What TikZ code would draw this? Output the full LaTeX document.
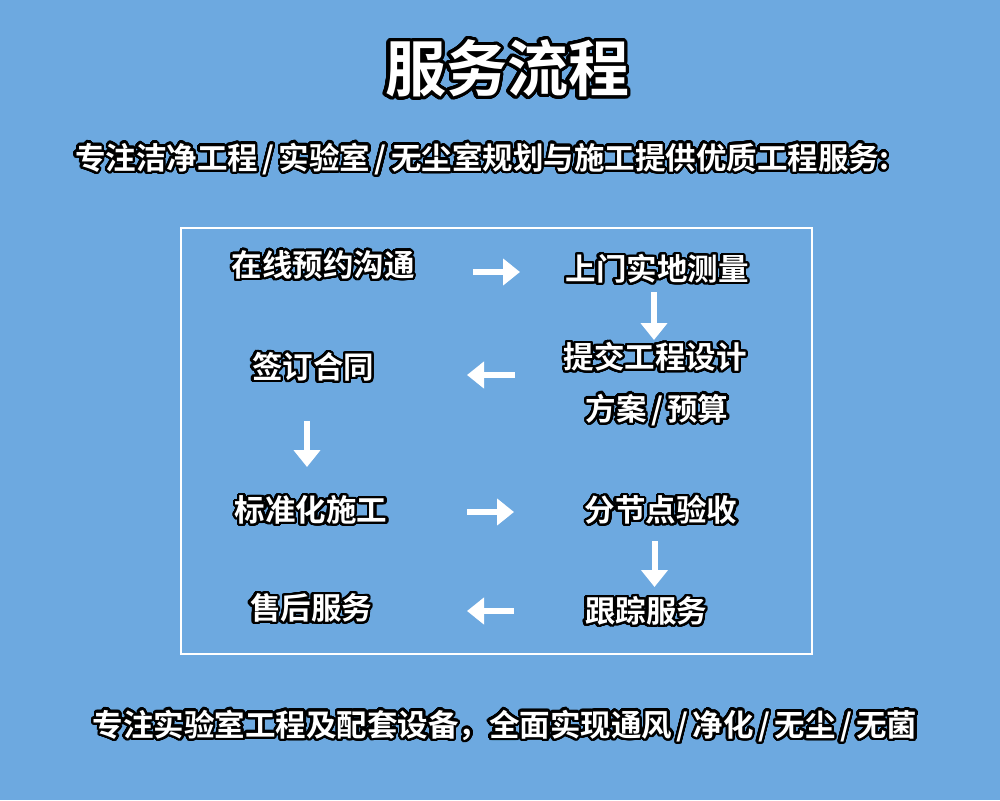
\documentclass[tikz,border=0pt]{standalone}
\usepackage{fontspec}
\usepackage[copies]{contour}
\usetikzlibrary{arrows.meta}
\newfontfamily\cjk{Noto Sans CJK SC Bold}
\definecolor{bgblue}{RGB}{109,169,224}
\contournumber{40}
\newcommand{\hsl}{\makebox[0.68em]{/}}
\tikzset{
  lbl/.style={inner sep=0pt, text=white, font=\cjk\fontsize{30.5}{36}\selectfont},
  arr/.style={draw=white, line width=6pt, -{Triangle[length=17pt,width=26pt]}},
}
\begin{document}
\begin{tikzpicture}[x=1pt,y=-1pt]
\useasboundingbox (0,0) rectangle (1000,800);
\fill[bgblue] (0,0) rectangle (1000,800);
\draw[white, line width=2pt] (181,228) rectangle (812,654);
\contourlength{3.2pt}
\node[lbl, font=\cjk\fontsize{61}{68}\selectfont] (title) at (507,70) {\contour{black}{服务流程}};
\contourlength{2.4pt}
\node[lbl] (sub) at (482,160) {\contour{black}{专注洁净工程\hsl 实验室\hsl 无尘室规划与施工提供优质工程服务:}};
\node[lbl] (bottom) at (505,727) {\contour{black}{专注实验室工程及配套设备，全面实现通风\hsl 净化\hsl 无尘\hsl 无菌}};
\node[lbl] (n1) at (323,266) {\contour{black}{在线预约沟通}};
\node[lbl] (n2) at (657,270) {\contour{black}{上门实地测量}};
\node[lbl] (n3) at (655,358) {\contour{black}{提交工程设计}};
\node[lbl] (n3b) at (657,411) {\contour{black}{方案\hsl 预算}};
\node[lbl] (n4) at (313,368) {\contour{black}{签订合同}};
\node[lbl] (n5) at (311,511) {\contour{black}{标准化施工}};
\node[lbl] (n6) at (661,511) {\contour{black}{分节点验收}};
\node[lbl] (n7) at (646,612) {\contour{black}{跟踪服务}};
\node[lbl] (n8) at (311,609) {\contour{black}{售后服务}};
\coordinate (a1s) at (473,272); \coordinate (a1e) at (520,272);
\coordinate (a2s) at (654,292); \coordinate (a2e) at (654,340);
\coordinate (a3s) at (515,375); \coordinate (a3e) at (467,375);
\coordinate (a4s) at (307,421); \coordinate (a4e) at (307,467);
\coordinate (a5s) at (467,512); \coordinate (a5e) at (514,512);
\coordinate (a6s) at (654.5,541); \coordinate (a6e) at (654.5,587);
\coordinate (a7s) at (514,611); \coordinate (a7e) at (467,611);
\draw[arr] (a1s) -- (a1e);
\draw[arr] (a2s) -- (a2e);
\draw[arr] (a3s) -- (a3e);
\draw[arr] (a4s) -- (a4e);
\draw[arr] (a5s) -- (a5e);
\draw[arr] (a6s) -- (a6e);
\draw[arr] (a7s) -- (a7e);
\end{tikzpicture}
\end{document}
